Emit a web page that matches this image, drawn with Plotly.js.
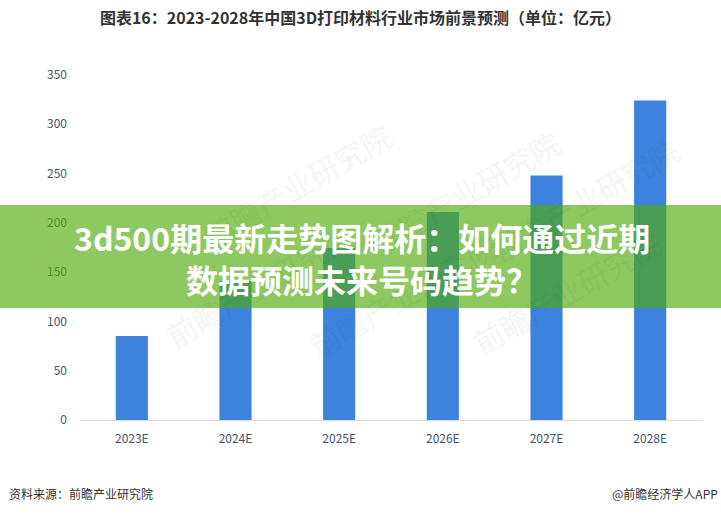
<!DOCTYPE html>
<html>
<head>
<meta charset="utf-8">
<script src="https://cdn.plot.ly/plotly-3.0.1.min.js"></script>
<style>html,body{margin:0;padding:0;background:#fff;}#chart{width:721px;height:515px;}</style>
</head>
<body>
<div id="chart"></div>
<script>
const categories = ["2023E", "2024E", "2025E", "2026E", "2027E", "2028E"];
const marketSize = [85.3, 141, 174.5, 211, 248, 324];
const yTicks = [0, 50, 100, 150, 200, 250, 300, 350];
const chartTitle = "图表16：2023-2028年中国3D打印材料行业市场前景预测（单位：亿元）";
const bannerLines = ["3d500期最新走势图解析：如何通过近期", "数据预测未来号码趋势？"];
const sourceText = "资料来源：前瞻产业研究院";
const appText = "@前瞻经济学人APP";
const watermarkText = "前瞻产业研究院";

const FONT = '"Noto Sans CJK SC", "Noto Sans", sans-serif';

const trace = {
  type: 'bar',
  x: categories,
  y: marketSize,
  marker: {color: '#3d82dd'},
  hoverinfo: 'skip'
};

const watermarks = [
  [0.18, 0.86], [0.62, 0.84], [0.98, 0.82],
  [0.12, 0.17], [0.52, 0.14], [0.95, 0.15]
].map(p => ({
  text: watermarkText, xref: 'paper', yref: 'paper', x: p[0], y: p[1],
  showarrow: false, textangle: -30, opacity: 0.045,
  font: {family: FONT, size: 30, color: '#1f3b5c'}
}));

const layout = {
  width: 721, height: 515,
  margin: {l: 80, r: 19, t: 60, b: 95},
  paper_bgcolor: '#ffffff', plot_bgcolor: '#ffffff',
  font: {family: FONT, size: 12, color: '#44546a'},
  showlegend: false,
  bargap: 0.69,
  title: {
    text: '<b>' + chartTitle + '</b>',
    xref: 'container', x: 0.5, xanchor: 'center',
    yref: 'container', y: 0.964, yanchor: 'middle',
    font: {family: FONT, size: 16, color: '#333333'}
  },
  xaxis: {
    type: 'category',
    showline: true, linecolor: '#d9d9d9', linewidth: 1,
    showgrid: false, zeroline: false, ticks: '',
    tickfont: {family: FONT, size: 12, color: '#44546a'},
    ticklabelstandoff: 8,
    fixedrange: true
  },
  yaxis: {
    range: [0, 365.2],
    tickvals: yTicks, ticktext: yTicks.map(String),
    showgrid: false, zeroline: false, showline: false, ticks: '',
    tickfont: {family: FONT, size: 12, color: '#44546a'},
    ticklabelstandoff: 12,
    fixedrange: true
  },
  shapes: [{
    type: 'rect', xref: 'paper', yref: 'paper', layer: 'above',
    x0: -80/622, x1: 1 + 19/622,
    y0: (420 - 308) / 360, y1: (420 - 205) / 360,
    fillcolor: 'rgba(80,172,10,0.65)', line: {width: 0}
  }],
  annotations: watermarks.concat([
    {
      text: '<b>' + bannerLines.join('<br>') + '</b>', xref: 'paper', yref: 'paper',
      x: (362 - 80) / 622, y: (420 - 258) / 360, xanchor: 'center', yanchor: 'middle',
      align: 'center',
      showarrow: false, font: {family: FONT, size: 32, color: '#ffffff'}
    },
    {
      text: sourceText, xref: 'paper', yref: 'paper',
      x: (7 - 80) / 622, y: (420 - 493) / 360, xanchor: 'left', yanchor: 'middle',
      showarrow: false, font: {family: FONT, size: 12, color: '#333333'}
    },
    {
      text: appText, xref: 'paper', yref: 'paper',
      x: (720 - 80) / 622, y: (420 - 493) / 360, xanchor: 'right', yanchor: 'middle',
      showarrow: false, font: {family: FONT, size: 12, color: '#333333'}
    }
  ])
};

Plotly.newPlot('chart', [trace], layout, {displayModeBar: false, staticPlot: true});
</script>
</body>
</html>
